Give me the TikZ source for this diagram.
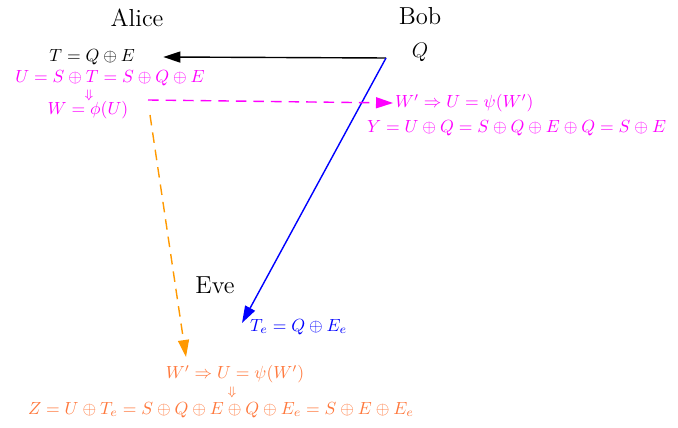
\documentclass[tikz,border=0pt]{standalone}
\usetikzlibrary{arrows.meta,positioning}
\definecolor{mag}{RGB}{255,0,255}
\definecolor{arrorange}{RGB}{255,153,0}
\definecolor{txtorange}{RGB}{255,120,60}

\begin{document}
\begin{tikzpicture}[x=0.02cm,y=-0.02cm,
  who/.style={font=\fontsize{14}{16}\selectfont},
  eqn/.style={font=\normalsize,inner sep=1pt},
  sml/.style={font=\scriptsize,inner sep=0pt},
  arr/.style={-{Triangle[length=0.34cm,width=0.22cm]},line width=0.8pt},
  dsh/.style={dash pattern=on 6pt off 4pt}
]
\useasboundingbox (0,0) rectangle (678,428);
% parties
\node[who] (alice) at (137,18) {Alice};
\node[who] (bob)   at (420,16) {Bob};
\node[who] (eve)   at (215,285) {Eve};
% Bob side
\node[eqn,font=\large] (q) at (420,52) {$Q$};
\coordinate (bq) at (386,58);
% Alice side
\node[eqn,anchor=east] (t) at (137,57) {$T=Q\oplus E$};
\node[eqn,mag] (u) at (110,78) {$U=S\oplus T=S\oplus Q\oplus E$};
\node[sml,mag] (da) at (89,95) {$\Downarrow$};
\node[eqn,mag] (w) at (88,110) {$W=\phi(U)$};
\coordinate (ws) at (148,100);
\coordinate (wo) at (150,115);
% Bob receives
\node[eqn,mag,anchor=west] (wb) at (393,103) {$W'\Rightarrow U=\psi(W')$};
\node[eqn,mag,anchor=west,font=\fontsize{10.3}{12}\selectfont] (y) at (365,128) {$Y=U\oplus Q=S\oplus Q\oplus E\oplus Q=S\oplus E$};
% Eve
\node[eqn,blue,anchor=west] (te) at (248,327) {$T_e=Q\oplus E_e$};
\coordinate (tb) at (242,323);
\coordinate (oe) at (186,357);
\node[eqn,txtorange] (we) at (235,374) {$W'\Rightarrow U=\psi(W')$};
\node[sml,txtorange] (de) at (232,392) {$\Downarrow$};
\node[eqn,txtorange] (z) at (221,410) {$Z=U\oplus T_e=S\oplus Q\oplus E\oplus Q\oplus E_e=S\oplus E\oplus E_e$};
% channels
\draw[arr] (bq) -- ([xshift=15]t.east);
\draw[arr,blue] (bq) -- (tb);
\draw[arr,mag,dsh] (ws) -- (wb.west);
\draw[arr,arrorange,dsh] (wo) -- (oe);
\end{tikzpicture}
\end{document}
